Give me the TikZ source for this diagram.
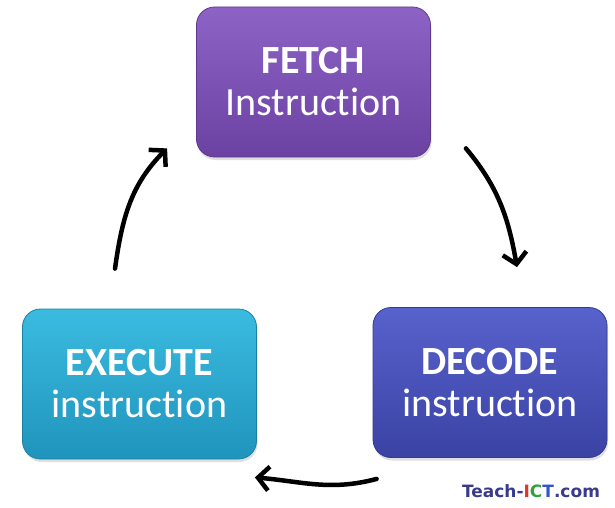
\documentclass[tikz,border=0pt]{standalone}
\usepackage{fontspec}
\setmainfont[Ligatures=NoCommon]{Carlito}
\newfontfamily\markfont{DejaVu Sans}
\usetikzlibrary{arrows.meta, shadows}

% box shades
\definecolor{fetchtop}{HTML}{8D63C6}
\definecolor{fetchbot}{HTML}{6B41A2}
\definecolor{fetchedge}{HTML}{5E3A8E}
\definecolor{decodetop}{HTML}{5862CC}
\definecolor{decodebot}{HTML}{3A42A4}
\definecolor{decodeedge}{HTML}{343A8E}
\definecolor{executetop}{HTML}{3BBBE0}
\definecolor{executebot}{HTML}{1F94BC}
\definecolor{executeedge}{HTML}{1B7FA2}
% logo letters
\definecolor{marknavy}{HTML}{3A3A8C}
\definecolor{markred}{HTML}{E0352B}
\definecolor{markgreen}{HTML}{2FA33A}
\definecolor{markblue}{HTML}{2F55D0}

\begin{document}
\begin{tikzpicture}[
    x=1pt, y=1pt,
    stage/.style={rounded corners=18pt, align=center, text=white,
                  minimum width=234pt, minimum height=150pt,
                  line width=0.8pt, font=\fontsize{40}{42}\selectfont,
                  drop shadow={opacity=0.25, shadow xshift=1pt, shadow yshift=-3pt}},
    flow/.style={->, line width=4.5pt, line cap=round},
    >={Straight Barb[length=11pt, width=24pt]}
  ]
  \useasboundingbox (0,0) rectangle (615,507);

  \node[stage, top color=fetchtop, bottom color=fetchbot, draw=fetchedge]
    (fetch) at (313.5,425) {\textbf{FETCH}\\Instruction};
  \node[stage, top color=decodetop, bottom color=decodebot, draw=decodeedge]
    (decode) at (490,124.5) {\textbf{DECODE}\\instruction};
  \node[stage, top color=executetop, bottom color=executebot, draw=executeedge]
    (execute) at (139.5,123) {\textbf{EXECUTE}\\instruction};

  % the cycle
  \draw[flow] ([shift={(35,9)}]fetch.south east)
    to[out=-50, in=100] ([shift={(27,40)}]decode.north);
  \draw[flow] ([shift={(4,-21)}]decode.south west)
    to[out=195, in=-5] ([shift={(-2,-18)}]execute.south east);
  \draw[flow] ([shift={(-24.5,40)}]execute.north)
    to[out=82, in=225] ([shift={(-29,9)}]fetch.south west);

  \node[font=\markfont\bfseries\fontsize{17}{17}\selectfont, text=marknavy]
    (mark) at (531,16)
    {Teach-\textcolor{markred}{I}\textcolor{markgreen}{C}\textcolor{markblue}{T}.com};
\end{tikzpicture}
\end{document}
